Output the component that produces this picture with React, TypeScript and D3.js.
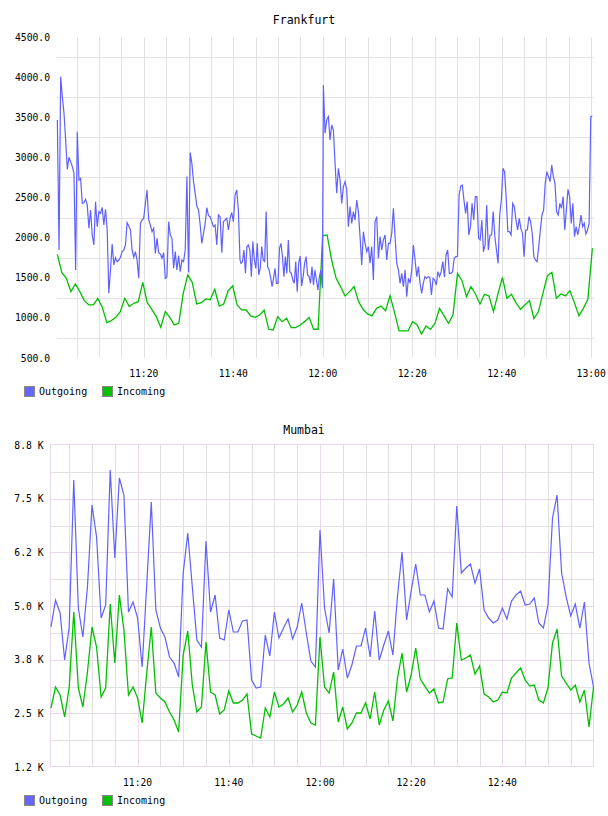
import * as d3 from 'd3';

const FONT = '"DejaVu Sans Mono", monospace';
const BLUE = '#6060ff';
const GREEN = '#00c000';

// ---- Frankfurt -------------------------------------------------------------
// outgoing arrives in bursts, so it is stored as four runs of evenly spaced
// samples; spans are minutes after 11:00
const frankOutSpans: [number, number][] = [[0.68, 41.51], [41.73, 59.91], [60.14, 81.75], [82.11, 120.26]];
const frankOutA = [
  3466, 1846, 4006, 3756, 3549, 3217, 2851, 3001, 2947, 2884, 2801, 1597, 3320, 2718, 2739, 2427,
  2436, 2477, 2407, 2116, 2344, 2033, 1908, 2448, 2137, 2324, 2303, 2378, 2157, 2353, 2095, 1306,
  1597, 1921, 1659, 1750, 1701, 1721, 1755, 1825, 1846, 1908, 2187, 2145, 2095, 1846, 1755, 1825,
  1721, 1493, 2178, 2220, 2240, 2427, 2594, 2220, 2157, 2074, 2116, 1804, 1991, 1813, 1796, 1742,
  1813, 1493, 1514, 2199, 2033, 1991, 1618, 1825, 1597, 1775, 1576, 1721, 1701, 1846, 2760, 1564,
  3059, 2926, 2697, 2552, 2394, 2344, 2157, 1929, 2054, 2178, 2374, 2274, 2261, 2199, 2137, 2157,
  1908, 2282, 2261, 1813, 2199, 2220, 2240, 2095, 2240, 2311, 2199, 2531, 2594, 2344, 1721,
];
const frankOutB = [
  1680, 1701, 1846, 1555, 1888, 1908, 1846, 1514, 1950, 1721, 1618, 1929, 1535, 1618, 1888, 1721,
  1701, 2324, 1638, 1597, 1506, 1389, 1493, 1618, 1431, 1431, 1867, 1929, 1763, 1514, 1763, 1555,
  1971, 1576, 1555, 1472, 1431, 1701, 1327, 1680, 1771, 1397, 1514, 1680, 1763, 1535, 1514, 1431,
  1638, 1410, 1597, 1472, 1348, 1514, 1597, 1368,
];
const frankOutC = [
  3902, 3300, 3466, 3507, 3217, 3403, 3341, 2926, 2552, 2864, 2718, 2427, 2635, 2697, 2602, 2137,
  2386, 2178, 2324, 2220, 2469, 2324, 2012, 1659, 2074, 1929, 1825, 1888, 1680, 1888, 1472, 2199,
  2261, 1742, 2012, 1846, 1971, 2033, 1721, 1929, 1929, 2054, 2365, 2012, 1680, 1597, 1431, 1555,
  1389, 1597, 1265, 1493, 1431, 1597, 1908, 1721, 1514, 1638, 1431,
];
const frankOutD = [
  1306, 1431, 1514, 1493, 1514, 1506, 1285, 1493, 1472, 1410, 1576, 1514, 1576, 1701, 1506, 1784,
  1846, 1555, 1555, 1576, 1742, 1763, 1763, 2531, 2643, 2656, 2469, 2303, 2448, 2033, 2137, 2427,
  2220, 2511, 2511, 1991, 1971, 2220, 1825, 1908, 2407, 1846, 2033, 2033, 2324, 2012, 1846, 1680,
  2282, 2469, 2864, 2822, 2490, 2074, 2074, 2033, 2427, 2386, 2220, 2095, 2240, 2116, 2054, 1763,
  2095, 2095, 2261, 2199, 2054, 1763, 1721, 1701, 1888, 2095, 2282, 2344, 2677, 2822, 2760, 2697,
  2905, 2760, 2677, 2324, 2282, 2427, 2365, 2511, 2095, 2344, 2602, 2511, 2178, 2427, 2012, 2137,
  2033, 2137, 2282, 2137, 2178, 2045, 2095, 2178, 3507, 3516,
];
// incoming, one sample a minute
const frankInSpan: [number, number] = [0.68, 120.26];
const frankIn = [
  1792, 1564, 1493, 1327, 1423, 1327, 1215, 1161, 1161, 1240, 1132, 941, 966, 1007, 1078, 1244,
  1140, 1182, 1202, 1443, 1190, 1107, 1015, 883, 1078, 1007, 912, 932, 1306, 1535, 1443, 1173,
  1190, 1236, 1227, 1356, 1148, 1173, 1339, 1398, 1157, 1100, 1098, 1024, 1007, 1036, 1098, 858,
  849, 1015, 953, 995, 878, 878, 912, 953, 1007, 858, 858, 2025, 2033, 1721, 1493, 1389,
  1273, 1327, 1389, 1202, 1107, 1049, 1024, 1119, 1148, 1090, 1277, 1065, 837, 837, 837, 953,
  915, 799, 899, 858, 933, 1119, 1024, 933, 1036, 1555, 1464, 1265, 1389, 1298, 1173, 1294,
  1273, 1078, 1298, 1506, 1244, 1294, 1190, 1107, 1161, 1215, 990, 1078, 1306, 1526, 1568, 1244,
  1298, 1273, 1339, 1190, 1028, 1119, 1231, 1867,
];
const frankTicks = [4500, 4000, 3500, 3000, 2500, 2000, 1500, 1000, 500];

// ---- Mumbai ----------------------------------------------------------------
const mumbaiSpan: [number, number] = [1, 120];
const mumbaiOut = [
  4511, 5139, 4837, 3742, 4511, 7934, 4953, 4278, 5442, 7352, 6607, 4720, 5023, 8167, 6118, 7981,
  7585, 4860, 5093, 4720, 3579, 5489, 7422, 4907, 4487, 4278, 3812, 3672, 3346, 5768, 6700, 5442,
  4208, 4045, 6514, 4860, 5256, 4254, 4208, 4907, 4394, 4394, 4650, 4674, 3276, 3090, 3113, 4324,
  3835, 4860, 4254, 4487, 4697, 4231, 4511, 5070, 4371, 3719, 3579, 6770, 4953, 4371, 5629, 3509,
  3998, 3323, 3626, 4068, 4068, 4487, 3812, 4883, 3742, 4091, 4417, 3858, 5233, 6257, 4674, 5349,
  5978, 5256, 5256, 4860, 5116, 4487, 4464, 5396, 5209, 7329, 5768, 5885, 5978, 5535, 5861, 4907,
  4720, 4604, 4674, 4953, 4697, 5116, 5256, 5349, 5023, 5046, 5186, 4604, 4487, 5023, 7049, 7585,
  5768, 5209, 4767, 5046, 4487, 5093, 3672, 3113,
];
const mumbaiIn = [
  2624, 3113, 2927, 2415, 3113, 4860, 3090, 2647, 3463, 4511, 4045, 2880, 3090, 5046, 3672, 5256,
  4441, 2927, 3113, 2857, 2275, 3439, 4511, 2973, 2857, 2764, 2531, 2345, 2065, 3858, 4417, 3160,
  2531, 2647, 4161, 2997, 2927, 2484, 2578, 3020, 2741, 2741, 2810, 2950, 2019, 1972, 1925, 2624,
  2415, 2997, 2647, 2717, 2857, 2531, 2694, 2997, 2508, 2275, 2228, 4278, 3113, 2973, 3463, 2298,
  2647, 2135, 2275, 2508, 2508, 2741, 2368, 2997, 2228, 2578, 2787, 2321, 3323, 3905, 2997, 3393,
  4022, 3300, 3136, 2973, 3067, 2741, 2764, 3300, 3323, 4604, 3742, 3789, 3858, 3416, 3602, 2950,
  2880, 2764, 2810, 2997, 2973, 3323, 3439, 3556, 3276, 3136, 3160, 2810, 2741, 3090, 4138, 4464,
  3369, 3206, 3043, 3160, 2764, 3043, 2182, 3113,
];
const mumbaiTicks = [8750, 7500, 6250, 5000, 3750, 2500, 1250];
const mumbaiTickLabels = ['8.8 K', '7.5 K', '6.2 K', '5.0 K', '3.8 K', '2.5 K', '1.2 K'];

const legendItems = [
  { name: 'Outgoing', color: '#6666ff' },
  { name: 'Incoming', color: '#00c000' },
];

type Pt = { t: number; v: number };

// lay a run of samples evenly over [from, to] (minutes after 11:00)
const spread = (values: number[], [from, to]: [number, number]): Pt[] => {
  const step = (to - from) / (values.length - 1);
  return values.map((v, i) => ({ t: from + i * step, v }));
};

const clock = (m: number) => `${11 + Math.floor(m / 60)}:${String(m % 60).padStart(2, '0')}`;
const crisp = (n: number) => Math.round(n) + 0.5;

const Legend = ({ y }: { y: number }) => (
  <g>
    {legendItems.map((d, i) => (
      <g key={d.name} transform={`translate(${24 + i * 78},${y})`}>
        <rect x={0.5} y={0.5} width={10} height={10} fill={d.color} stroke="#888" />
        <text x={15} y={9} fontSize={10} fontFamily={FONT} fill="#000">{d.name}</text>
      </g>
    ))}
  </g>
);

const App = () => {
  // Frankfurt scales
  const fx = d3.scaleLinear().domain([0.6, 120.4]).range([57, 593]);
  const fy = d3.scaleLinear().domain([500, 4500]).range([358, 37]);
  const frankOut = [frankOutA, frankOutB, frankOutC, frankOutD].flatMap((vals, i) => spread(vals, frankOutSpans[i]));
  const frankInPts = spread(frankIn, frankInSpan);
  const fLine = d3.line<Pt>().x(d => fx(d.t)).y(d => fy(d.v));

  // Mumbai scales
  const mx = d3.scaleLinear().domain([0.94, 120.1]).range([50.7, 594]);
  const my = d3.scaleLinear().domain([1250, 8750]).range([767, 445]);
  const mLine = d3.line<Pt>().x(d => mx(d.t)).y(d => my(d.v));

  const fiveMin = d3.range(5, 121, 5);
  const frankHalfSteps = d3.range(4250, 500, -500);
  const mumbaiMinorY = d3.range(8125, 1250, -625).filter(v => !mumbaiTicks.includes(v));
  const mumbaiMajorY = mumbaiTicks.slice(1, -1);
  const mumbaiMinutes = d3.range(5, 120, 5);

  return (
    <svg width={608} height={816} style={{ position: 'absolute', left: 0, top: 0, background: '#fff' }}>
      {/* Frankfurt */}
      <text x={304} y={24} textAnchor="middle" fontSize={11.5} fontFamily={FONT}>Frankfurt</text>
      <g stroke="#e2e2e2" strokeWidth={1}>
        {frankHalfSteps.map(v => (
          <line key={v} x1={57} x2={594} y1={crisp(fy(v))} y2={crisp(fy(v))} />
        ))}
        {fiveMin.map(m => (
          <line key={m} x1={crisp(fx(m))} x2={crisp(fx(m))} y1={37} y2={358} />
        ))}
      </g>
      <g fontFamily={FONT} fontSize={9.7} fill="#000">
        {frankTicks.map(v => (
          <text key={v} x={50} y={fy(v) + 3.5} textAnchor="end">{v.toFixed(1)}</text>
        ))}
        {fiveMin.filter(m => m % 20 === 0).map(m => (
          <text key={m} x={fx(m)} y={377} textAnchor="middle">{clock(m)}</text>
        ))}
      </g>
      <path d={fLine(frankInPts) ?? ''} fill="none" stroke={GREEN} strokeWidth={1.3} />
      <path d={fLine(frankOut) ?? ''} fill="none" stroke={BLUE} strokeWidth={1.2} />
      <Legend y={386} />

      {/* Mumbai */}
      <text x={304} y={434} textAnchor="middle" fontSize={11.5} fontFamily={FONT}>Mumbai</text>
      <g stroke="#e0e0e0" strokeWidth={1}>
        {mumbaiMinorY.map(v => (
          <line key={v} x1={51} x2={594} y1={crisp(my(v))} y2={crisp(my(v))} />
        ))}
        {mumbaiMinutes.filter(m => m % 20 !== 0).map(m => (
          <line key={m} x1={crisp(mx(m))} x2={crisp(mx(m))} y1={445} y2={767} />
        ))}
      </g>
      <g stroke="#ead8ea" strokeWidth={1} fill="none">
        {mumbaiMajorY.map(v => (
          <line key={v} x1={51} x2={594} y1={crisp(my(v))} y2={crisp(my(v))} />
        ))}
        {mumbaiMinutes.filter(m => m % 20 === 0).map(m => (
          <line key={m} x1={crisp(mx(m))} x2={crisp(mx(m))} y1={445} y2={767} />
        ))}
        <rect x={50.5} y={444.5} width={543} height={322} />
      </g>
      <g fontFamily={FONT} fontSize={9.7} fill="#000">
        {mumbaiTicks.map((v, i) => (
          <text key={v} x={43.5} y={my(v) + 3.5} textAnchor="end">{mumbaiTickLabels[i]}</text>
        ))}
        {mumbaiMinutes.filter(m => m % 20 === 0).map(m => (
          <text key={m} x={mx(m)} y={786} textAnchor="middle">{clock(m)}</text>
        ))}
      </g>
      <path d={mLine(spread(mumbaiIn, mumbaiSpan)) ?? ''} fill="none" stroke={GREEN} strokeWidth={1.3} />
      <path d={mLine(spread(mumbaiOut, mumbaiSpan)) ?? ''} fill="none" stroke={BLUE} strokeWidth={1.2} />
      <Legend y={795} />
    </svg>
  );
};

export default App;
